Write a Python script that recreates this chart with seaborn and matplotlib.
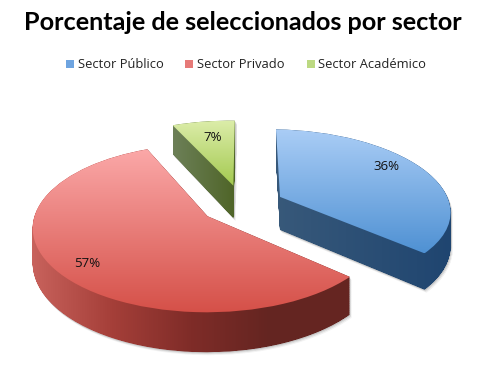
import numpy as np
import seaborn as sns
import matplotlib
matplotlib.use("Agg")
import matplotlib.pyplot as plt
from matplotlib.path import Path
from matplotlib.patches import Patch, PathPatch

sectors = ["Sector Público", "Sector Privado", "Sector Académico"]
share = [36, 57, 7]

top_colors = [["#aacdf6", "#4f91d3"], ["#fba8a8", "#d55048"], ["#dcedaa", "#a3c94f"]]
side_colors = [["#38597a", "#1f4570"],
               ["#c8625c", "#a53f39", "#7f2c28", "#642521", "#662622"],
               ["#6d8058", "#4e6427"]]
legend_colors = ["#6ea4e0", "#e67a78", "#bcd982"]
# label offsets in pixels, the original did not sit on the bisector
label_nudge = [(-8, -7), (0, 6), (4, 4)]

W, H = 483, 374
CX, CY = 242, 204.5     # where the pie centre lands, in pixels
RX, RY = 169.5, 79      # radius across and along the view
K = 0.14                # perspective strength
SKEW = 5                # far side leans left a little
DEPTH = 33.5


def project(pts, z=0.0):
    pts = np.asarray(pts)
    w = 1 + K * pts[:, 1]
    return np.column_stack([CX + pts[:, 0] * RX / w - SKEW * pts[:, 1],
                            CY - (pts[:, 1] * RY - z * DEPTH) / w])


def gradient(ax, path, colors, vertical, zorder):
    cmap = sns.blend_palette(colors, n_colors=256, as_cmap=True)
    ramp = np.linspace(0, 1, 256)
    ramp = ramp[:, None] if vertical else ramp[None, :]
    x0, y0 = path.vertices.min(axis=0)
    x1, y1 = path.vertices.max(axis=0)
    im = ax.imshow(ramp, cmap=cmap, extent=(x0, x1, y1, y0), aspect="auto",
                   interpolation="bilinear", zorder=zorder)
    im.set_clip_path(path, ax.transData)


sns.set_theme(style="white")
plt.rcParams["font.family"] = ["Open Sans", "DejaVu Sans"]

fig = plt.figure(figsize=(W / 100, H / 100), dpi=100)
ax = fig.add_axes([0, 0, 1, 1])

wedges, _, pcts = ax.pie(share, explode=[0.25] * 3, startangle=87.8, counterclock=False,
                         autopct="%.0f%%", pctdistance=0.8, radius=1,
                         textprops={"fontsize": 9.5, "color": "#111111"})

for i, wedge in enumerate(wedges):
    wedge.set_visible(False)
    flat = wedge.get_patch_transform().transform_path(wedge.get_path())

    # side: all the layers of the slice as one outline
    layers = [Path(project(flat.vertices, z), flat.codes) for z in np.linspace(0, 1, 60)]
    side = Path.make_compound_path(*layers)

    # soft shadow under the side
    for off, a in [(1, 0.16), (2, 0.12), (3, 0.07)]:
        shadow = Path(side.vertices + [off * 0.7, off], side.codes)
        ax.add_patch(PathPatch(shadow, fc="#555555", ec="none", alpha=a, zorder=1))

    gradient(ax, side, side_colors[i], False, 2)
    gradient(ax, layers[0], top_colors[i], True, 3)

    x, y = pcts[i].get_position()
    px, py = project([[x, y]])[0]
    pcts[i].set_position((px + label_nudge[i][0], py + label_nudge[i][1]))
    pcts[i].set_zorder(5)

ax.set_xlim(0, W)
ax.set_ylim(H, 0)
ax.set_aspect("auto")
ax.axis("off")

fig.text(243 / W, 1 - 23 / H, "Porcentaje de seleccionados por sector", ha="center", va="center",
         fontsize=18.2, fontweight="bold", family="Lato", color="black")

handles = [Patch(fc=c, ec="none") for c in legend_colors]
ax.legend(handles, sectors, loc="center", bbox_to_anchor=(246 / W, 1 - 65 / H),
          ncols=3, frameon=False, fontsize=9.3, handlelength=0.62, handleheight=0.62,
          handletextpad=0.3, columnspacing=1.7, labelcolor="#222222", borderpad=0)

fig.savefig("out.png", dpi=100)
